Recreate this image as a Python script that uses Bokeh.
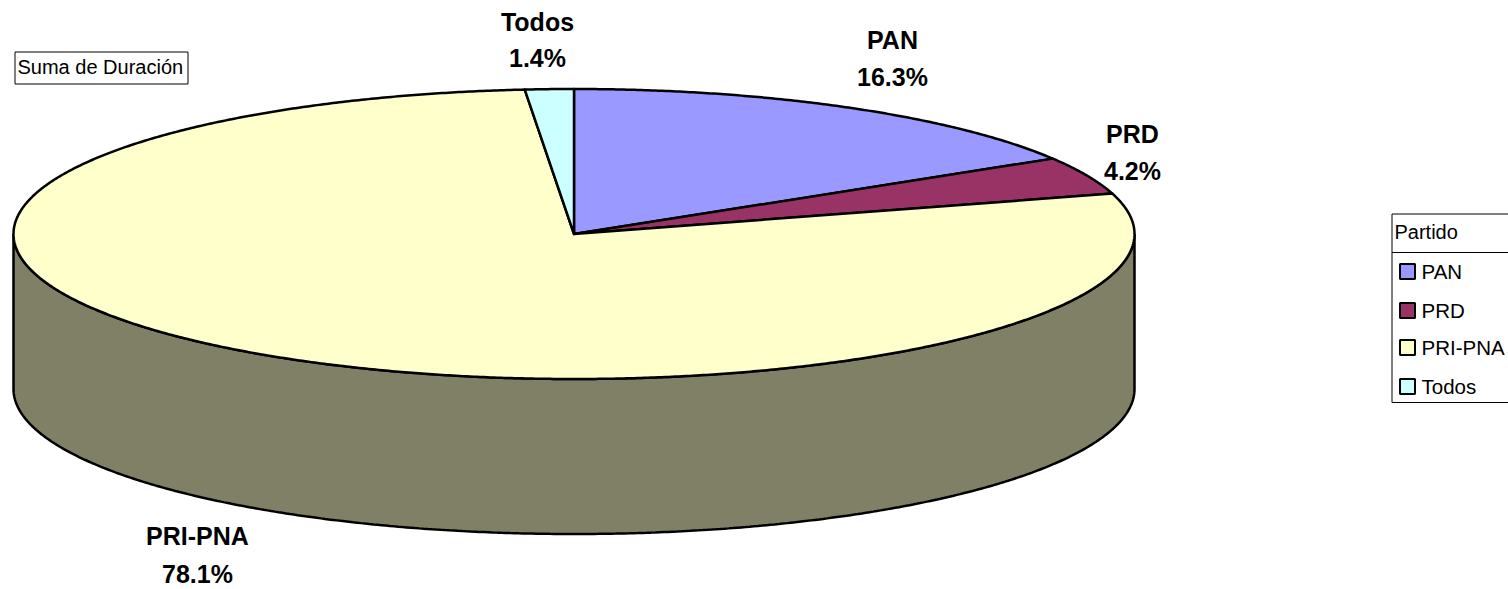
import numpy as np
from bokeh.plotting import figure
from bokeh.models import Range1d
from bokeh.core.properties import value
from bokeh.embed import file_html
from bokeh.resources import INLINE

partidos = ["PAN", "PRD", "PRI-PNA", "Todos"]
porcentajes = [16.3, 4.2, 78.1, 1.4]
colores = ["#9999FF", "#993366", "#FFFFCC", "#CCFFFF"]
color_lateral = "#808066"
titulo_campo = "Suma de Duración"
titulo_leyenda = "Partido"

# layout in page pixels
CX, CY, RX, RY, DEPTH = 573.5, 233.5, 560.5, 145, 155
label_pos = {"PAN": (892, 39, 76), "PRD": (1132, 133, 170),
             "PRI-PNA": (197, 535, 573), "Todos": (537, 21, 57)}
FONT = value("Liberation Sans")

p = figure(width=1508, height=589, output_backend="svg", toolbar_location=None,
           x_range=Range1d(0, 1508), y_range=Range1d(589, 0),
           min_border=0, outline_line_color=None)
p.axis.visible = False
p.grid.visible = False
p.xaxis.visible = False
p.yaxis.visible = False


def pt(theta, dy=0.0):
    return CX + RX * np.sin(theta), CY - RY * np.cos(theta) + dy


# side wall: the front half of the rim, lowered by the depth
t = np.linspace(np.pi / 2, 3 * np.pi / 2, 400)
x0, y0 = pt(t)
x1, y1 = pt(t[::-1], DEPTH)
p.patch(np.r_[x0, x1], np.r_[y0, y1], fill_color=color_lateral,
        line_color="black", line_width=2.5)

# top slices
fracs = np.array(porcentajes) / sum(porcentajes)
edges = np.r_[0, np.cumsum(fracs)] * 2 * np.pi
xs, ys = [], []
for a, b in zip(edges[:-1], edges[1:]):
    tt = np.linspace(a, b, max(int((b - a) * 160), 8))
    xa, ya = pt(tt)
    xs.append(np.r_[CX, xa, CX])
    ys.append(np.r_[CY, ya, CY])
p.patches(xs, ys, fill_color=colores, line_color="black", line_width=2.5, line_join="round")

# data labels
for name, v in zip(partidos, porcentajes):
    lx, y_a, y_b = label_pos[name]
    p.text([lx, lx], [y_a, y_b], text=[name, f"{v}%"], text_font=FONT,
           text_font_style="bold", text_font_size="25px", text_align="center",
           text_baseline="middle", text_color="black")

# field button
p.quad(left=[14.5], right=[187.5], top=[51.5], bottom=[83.5], fill_color="white",
       line_color="black", line_width=1)
p.text([17], [66.5], text=[titulo_campo], text_font=FONT, text_font_size="20px",
       text_baseline="middle", text_color="black")

# legend box
LX, LT, LH, LB = 1391.5, 213.5, 252, 402
p.quad(left=[LX], right=[1530], top=[LT], bottom=[LB], fill_color="white",
       line_color="black", line_width=1)
p.segment([LX], [LH], [1530], [LH], line_color="black", line_width=1)
p.text([1394], [231.5], text=[titulo_leyenda], text_font=FONT, text_font_size="20px",
       text_baseline="middle", text_color="black")
leg_y = [271, 310, 347, 386]
p.quad(left=[1399.5] * 4, right=[1414.5] * 4,
       top=[y - 7.5 for y in leg_y], bottom=[y + 7.5 for y in leg_y],
       fill_color=colores, line_color="black", line_width=2)
p.text([1421] * 4, leg_y, text=partidos, text_font=FONT, text_font_size="20.5px",
       text_baseline="middle", text_color="black")

open("out.html", "w").write(file_html(p, INLINE))
